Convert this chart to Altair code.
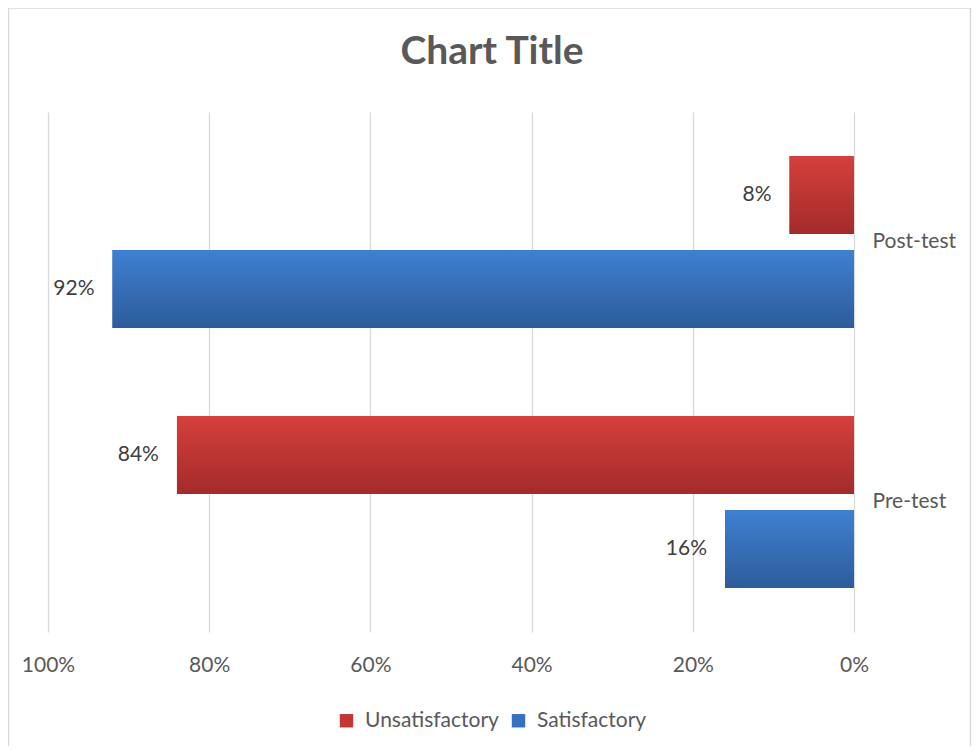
import altair as alt
import pandas as pd

groups = ["Post-test", "Post-test", "Pre-test", "Pre-test"]
series = ["Unsatisfactory", "Satisfactory", "Unsatisfactory", "Satisfactory"]
values = [0.08, 0.92, 0.84, 0.16]
series_order = ["Unsatisfactory", "Satisfactory"]
group_order = ["Post-test", "Pre-test"]
x_ticks = [0, 0.2, 0.4, 0.6, 0.8, 1.0]

df = pd.DataFrame({"group": groups, "series": series, "value": values})

FONT = "Lato"
FS = 21
RED_TOP, RED_BOT = "#d5403b", "#a32b2b"
BLUE_TOP, BLUE_BOT = "#3f80d2", "#2d5c9a"


def grad(top, bot):
    return alt.LinearGradient(
        gradient="linear",
        x1=0, x2=0, y1=0, y2=1,
        stops=[alt.GradientStop(color=top, offset=0),
               alt.GradientStop(color=bot, offset=1)],
    )


x_enc = alt.X(
    "value:Q",
    scale=alt.Scale(domain=[0, 1], reverse=True, nice=False, zero=True),
    axis=alt.Axis(values=x_ticks, format=".0%", title=None, domain=False, ticks=False,
                  grid=True, gridColor="#d9d9d9", gridWidth=1.3, labelPadding=22,
                  labelFlush=False,
                  labelFontSize=FS, labelColor="#595959", labelFont=FONT),
)
y_enc = alt.Y(
    "group:N",
    sort=group_order,
    scale=alt.Scale(paddingInner=0, paddingOuter=0),
    axis=alt.Axis(orient="right", title=None, domain=False, ticks=False, labelPadding=18,
                  labelFontSize=FS, labelColor="#595959", labelFont=FONT, labelAlign="left"),
)
yoff_enc = alt.YOffset(
    "series:N",
    sort=series_order,
    scale=alt.Scale(paddingInner=0.17, paddingOuter=0.468),
)

base = alt.Chart(df).encode(x=x_enc, y=y_enc, yOffset=yoff_enc)

legend_bars = base.mark_bar().encode(
    color=alt.Color(
        "series:N",
        sort=series_order,
        scale=alt.Scale(domain=series_order, range=["#c23733", "#3670c0"]),
        legend=alt.Legend(
            title=None, orient="none", direction="horizontal", legendX=288, legendY=598,
            symbolType="square", symbolSize=180, symbolStrokeWidth=0,
            labelFontSize=FS, labelColor="#595959", labelFont=FONT,
            labelOffset=8, columnPadding=9,
        ),
    )
)

red_bars = base.transform_filter(alt.datum.series == "Unsatisfactory").mark_bar(
    fill=grad(RED_TOP, RED_BOT))
blue_bars = base.transform_filter(alt.datum.series == "Satisfactory").mark_bar(
    fill=grad(BLUE_TOP, BLUE_BOT))

labels = base.mark_text(align="right", baseline="middle", dx=-18, fontSize=FS,
                        color="#404040", font=FONT).encode(
    text=alt.Text("value:Q", format=".0%"))

frame = alt.Chart(pd.DataFrame({"f": [0]})).mark_rect(
    fill="transparent", stroke="#d9d9d9", strokeWidth=1.5).encode(
    x=alt.value(-39.5), x2=alt.value(922.5), y=alt.value(-104), y2=alt.value(660))

chart = alt.layer(frame, legend_bars, red_bars, blue_bars, labels).properties(
    width=806,
    height=520,
    autosize=alt.AutoSizeParams(type="none"),
    padding={"left": 40, "top": 104, "right": 118, "bottom": 114},
    title=alt.TitleParams("Chart Title", font=FONT, fontSize=39, fontWeight="bold",
                          color="#595959", anchor="middle", frame="group", dx=41,
                          offset=-65),
).configure(background="white", view=alt.ViewConfig(strokeWidth=0))

chart.save("out.html", embed_options={"renderer": "svg", "actions": False})
